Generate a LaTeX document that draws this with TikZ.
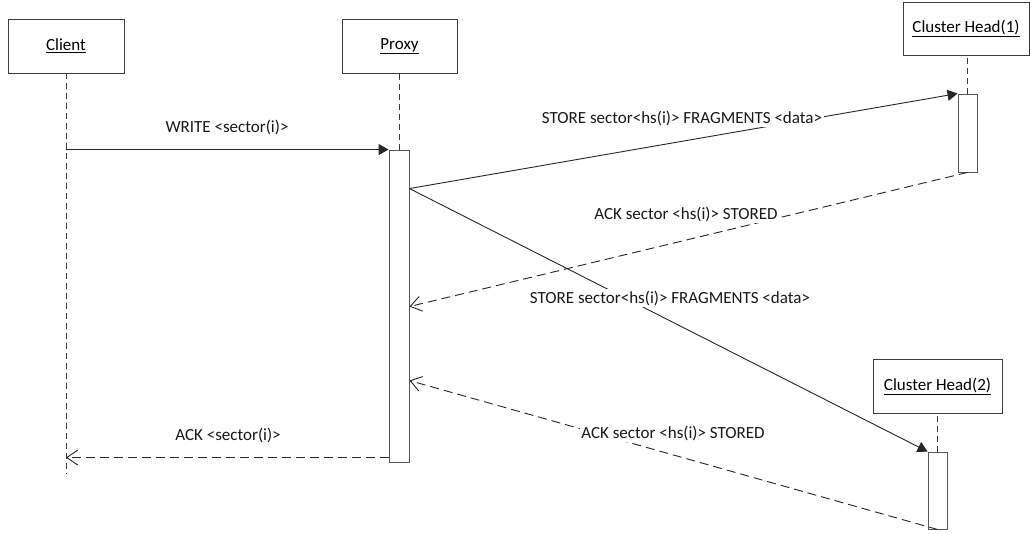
\documentclass[tikz,border=0pt]{standalone}
\usepackage{fontspec}
\setmainfont{Carlito}
\usetikzlibrary{arrows.meta,calc}
\definecolor{edge}{HTML}{3C3C3C}
\definecolor{barline}{HTML}{555555}
\tikzset{
  actor/.style={draw=edge, line width=0.9pt, fill=white, inner sep=0pt},
  actbar/.style={draw=barline, line width=0.9pt, fill=white, inner sep=0pt, minimum width=19pt},
  lifeline/.style={draw=edge, line width=0.9pt, dash pattern=on 6pt off 4pt},
  callmsg/.style={draw=black!85, line width=0.9pt, -{Triangle[length=10pt,width=11pt]}},
  replymsg/.style={draw=black!85, line width=0.9pt, dash pattern=on 9pt off 5pt,
    -{Straight Barb[length=11pt,width=15pt,line width=0.9pt]}},
  msglabel/.style={fill=white, inner sep=1.5pt, text=black!90},
}
\begin{document}
\begin{tikzpicture}[x=1pt,y=-1pt, font=\fontsize{17}{20}\selectfont]
\useasboundingbox (0,0) rectangle (1030,533);
\fill[white] (0,0) rectangle (1030,533);

% participants
\node[actor, minimum width=116pt, minimum height=54pt] (client) at (66,46) {\underline{Client}};
\node[actor, minimum width=115pt, minimum height=54pt] (proxy) at (399.5,46) {\underline{Proxy}};
\node[actor, minimum width=126pt, minimum height=53pt] (ch1) at (966,28.5) {\underline{Cluster Head(1)}};
\node[actor, minimum width=129pt, minimum height=54pt] (ch2) at (937.5,386) {\underline{Cluster Head(2)}};

% activation bars
\node[actbar, minimum width=20pt, minimum height=312pt] (pbar) at (399,306) {};
\node[actbar, minimum height=78pt] (c1bar) at (967.5,133) {};
\node[actbar, minimum height=77pt] (c2bar) at (937.5,490.5) {};

% lifelines
\coordinate (clientend) at (66,474);
\draw[lifeline] (client.south) -- (clientend);
\draw[lifeline] (pbar.north) -- (pbar.north |- proxy.south);
\draw[lifeline] (c1bar.north) -- (c1bar.north |- ch1.south);
\draw[lifeline] (c2bar.north) -- (c2bar.north |- ch2.south);

% points on the proxy bar
\coordinate (fork) at ($(pbar.north east)+(0,39)$);
\coordinate (back1) at ($(pbar.north east)+(0,157)$);
\coordinate (back2) at ($(pbar.north east)+(0,231)$);
\coordinate (reply) at ($(pbar.north west)+(0,308)$);

% messages
\draw[callmsg] (client.south |- pbar.north west) -- (pbar.north west);
\draw[callmsg] (fork) -- (c1bar.north west);
\draw[replymsg] (c1bar.south) -- (back1);
\draw[callmsg] (fork) -- (c2bar.north west);
\draw[replymsg] (c2bar.south) -- (back2);
\draw[replymsg] (reply) -- (client.south |- reply);

% message labels
\node[text=black!90] (lwrite) at (227,127) {WRITE <sector(i)>};
\node[msglabel] (lstore1) at (682,118) {STORE sector<hs(i)> FRAGMENTS <data>};
\node[msglabel] (lack1) at (686,214) {ACK sector <hs(i)> STORED};
\node[msglabel] (lstore2) at (670,298) {STORE sector<hs(i)> FRAGMENTS <data>};
\node[msglabel] (lack2) at (673,433) {ACK sector <hs(i)> STORED};
\node[text=black!90] (lreply) at (228,435) {ACK <sector(i)>};
\end{tikzpicture}
\end{document}
